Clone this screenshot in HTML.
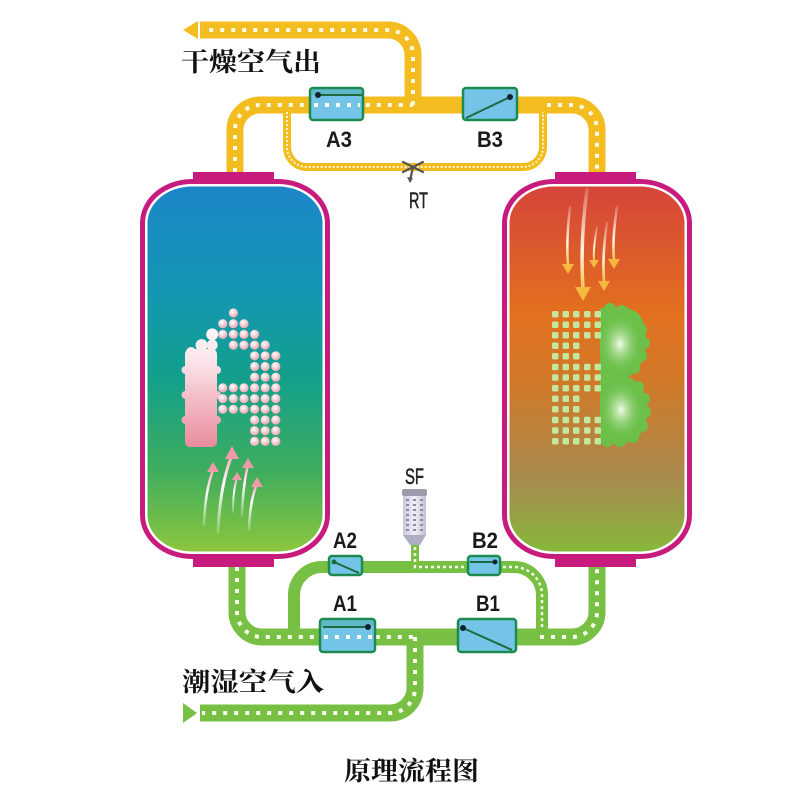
<!DOCTYPE html>
<html><head><meta charset="utf-8"><style>
html,body{margin:0;padding:0;background:#fff;}
svg{display:block;}
.lb{font-family:"Liberation Sans",sans-serif;font-weight:bold;fill:#1a1a1a;font-size:22px;}
.lr{font-family:"Liberation Sans",sans-serif;fill:#222;font-size:22px;stroke:#222;stroke-width:0.5;}
.cn{font-family:"Liberation Serif","Noto Serif CJK SC","Noto Sans CJK SC",serif;font-weight:bold;fill:#111;font-size:26px;}
</style></head><body>
<svg width="800" height="800" viewBox="0 0 800 800" xmlns="http://www.w3.org/2000/svg">
<defs>
<linearGradient id="gA" x1="0" y1="0" x2="0" y2="1">
<stop offset="0" stop-color="#1c86c8"/><stop offset="0.3" stop-color="#1497b2"/><stop offset="0.52" stop-color="#12a08c"/><stop offset="0.78" stop-color="#3fad5e"/><stop offset="1" stop-color="#8cc63e"/>
</linearGradient>
<linearGradient id="gB" x1="0" y1="0" x2="0" y2="1">
<stop offset="0" stop-color="#d6443a"/><stop offset="0.35" stop-color="#e2701e"/><stop offset="0.55" stop-color="#cf7a2a"/><stop offset="0.8" stop-color="#a88a4e"/><stop offset="1" stop-color="#86b83a"/>
</linearGradient>
<linearGradient id="leg" x1="0" y1="310" x2="0" y2="450" gradientUnits="userSpaceOnUse">
<stop offset="0" stop-color="#ffffff"/><stop offset="0.35" stop-color="#fbe6ea"/><stop offset="1" stop-color="#e9889a"/>
</linearGradient>
<radialGradient id="dotA" cx="0.4" cy="0.35" r="0.65">
<stop offset="0" stop-color="#ffffff"/><stop offset="1" stop-color="#eaa6b2"/>
</radialGradient>
<radialGradient id="hl" cx="0.5" cy="0.5" r="0.5">
<stop offset="0" stop-color="#f2fbe8" stop-opacity="1"/><stop offset="1" stop-color="#6cc04a" stop-opacity="0"/>
</radialGradient>
<linearGradient id="sfg" x1="0" y1="0" x2="1" y2="0">
<stop offset="0" stop-color="#c8c8da"/><stop offset="0.5" stop-color="#f0f0f8"/><stop offset="1" stop-color="#c0c0d4"/>
</linearGradient>
<linearGradient id="tailA" x1="0" y1="1" x2="0" y2="0">
<stop offset="0" stop-color="#ffffff" stop-opacity="0.2"/><stop offset="0.6" stop-color="#ffffff"/><stop offset="1" stop-color="#f2a8b4"/>
</linearGradient>
<linearGradient id="tailB" x1="0" y1="0" x2="0" y2="1">
<stop offset="0" stop-color="#ffffff" stop-opacity="0.2"/><stop offset="0.6" stop-color="#fff6e0"/><stop offset="1" stop-color="#f6c050"/>
</linearGradient>
</defs>

<!-- ===== YELLOW PIPES (top) ===== -->
<g fill="none" stroke="#f4bd1f" stroke-width="17">
<path d="M200,30 H388 A25,25 0 0 1 413,55 V105"/>
<path d="M235,173 V130 A25,25 0 0 1 260,105 H572 A25,25 0 0 1 597,130 V173"/>
</g>
<path d="M287,105 V147 A20,20 0 0 0 307,167 H523 A20,20 0 0 0 543,147 V105" fill="none" stroke="#f4bd1f" stroke-width="8"/>
<path d="M287,112 V147 A20,20 0 0 0 307,167 H523 A20,20 0 0 0 543,147 V112" fill="none" stroke="#fff6d0" stroke-width="2" stroke-dasharray="2 2"/>
<polygon points="183,30 198,21 198,39" fill="#f4bd1f"/>
<g fill="none" stroke="#fffbe8" stroke-width="4" stroke-dasharray="4 7">
<path d="M235,172 V130 A25,25 0 0 1 260,105 H413"/>
<path d="M413,105 V55 A25,25 0 0 0 388,30 H202"/>
<path d="M547,105 H572 A25,25 0 0 1 597,130 V172"/>
</g>

<!-- RT -->
<g stroke="#555" stroke-width="2.2" fill="none" stroke-linecap="round">
<path d="M403,162 L423,172"/><path d="M403,172 L423,162"/><path d="M413,167 L410,181"/>
</g>
<path d="M410,183 L407,177 L413,178 Z" fill="#555"/>
<text class="lr" x="409" y="208" textLength="19" lengthAdjust="spacingAndGlyphs">RT</text>

<!-- valves top -->
<rect x="310" y="88" width="53" height="32" rx="3" fill="#74c4e8" stroke="#1d8a4f" stroke-width="2.5"/>
<rect x="311.5" y="89.5" width="50" height="6" fill="#5fb8c8"/>
<line x1="318" y1="95" x2="362" y2="95" stroke="#1d6a3f" stroke-width="2"/>
<circle cx="318" cy="95" r="3" fill="#123"/>
<path d="M314,105 H360" stroke="#fff" stroke-width="4" stroke-dasharray="4 7" fill="none"/>
<rect x="463" y="88" width="54" height="32" rx="3" fill="#74c4e8" stroke="#1d8a4f" stroke-width="2.5"/>
<line x1="466" y1="118" x2="510" y2="97" stroke="#1d6a3f" stroke-width="2"/>
<circle cx="510" cy="97" r="3" fill="#123"/>
<text class="lb" x="326" y="147" textLength="26" lengthAdjust="spacingAndGlyphs">A3</text>
<text class="lb" x="477" y="147" textLength="26" lengthAdjust="spacingAndGlyphs">B3</text>

<!-- ===== GREEN PIPES (bottom) ===== -->
<g fill="none" stroke="#78c043" stroke-width="17">
<path d="M237,566 V612 A25,25 0 0 0 262,637 H572 A25,25 0 0 0 597,612 V566"/>
<path d="M415,637 V688 A25,25 0 0 1 390,713 H200"/>
</g>
<path d="M294,637 V595 A28,28 0 0 1 322,567 H514 A28,28 0 0 1 542,595 V637" fill="none" stroke="#78c043" stroke-width="12"/>
<path d="M415,543 V567" stroke="#78c043" stroke-width="8" fill="none"/>
<g fill="none" stroke="#f4ffe8" stroke-width="2.5" stroke-dasharray="3 3">
<path d="M415,547 V567 H514 A28,28 0 0 1 542,595 V630"/>
</g>
<polygon points="183,703 183,723 197,713" fill="#78c043"/>
<g fill="none" stroke="#f8fff0" stroke-width="4" stroke-dasharray="4 7">
<path d="M237,567 V612 A25,25 0 0 0 262,637 H415"/>
<path d="M415,637 V688 A25,25 0 0 1 390,713 H202"/>
<path d="M540,637 H572 A25,25 0 0 0 597,612 V567"/>
</g>

<!-- valves bottom -->
<rect x="320" y="619" width="55" height="33" rx="3" fill="#74c4e8" stroke="#1d8a4f" stroke-width="2.5"/>
<rect x="321.5" y="620.5" width="52" height="6" fill="#5fb8c8"/>
<line x1="323" y1="627" x2="368" y2="627" stroke="#1d6a3f" stroke-width="2"/>
<circle cx="368" cy="627" r="3" fill="#123"/>
<path d="M324,637 H372" stroke="#fff" stroke-width="4" stroke-dasharray="4 7" fill="none"/>
<rect x="458" y="619" width="58" height="33" rx="3" fill="#74c4e8" stroke="#1d8a4f" stroke-width="2.5"/>
<line x1="463" y1="628" x2="512" y2="650" stroke="#1d6a3f" stroke-width="2"/>
<circle cx="463" cy="628" r="3" fill="#123"/>
<rect x="329" y="556" width="33" height="19" rx="3" fill="#74c4e8" stroke="#1d8a4f" stroke-width="2.5"/>
<line x1="334" y1="562" x2="359" y2="573" stroke="#1d6a3f" stroke-width="2"/>
<circle cx="334" cy="562" r="2.5" fill="#1d6a3f"/>
<rect x="468" y="556" width="32" height="19" rx="3" fill="#74c4e8" stroke="#1d8a4f" stroke-width="2.5"/>
<line x1="470" y1="562" x2="495" y2="562" stroke="#1d6a3f" stroke-width="2"/>
<circle cx="495" cy="562" r="2.5" fill="#123"/>
<text class="lb" x="333" y="548" textLength="24" lengthAdjust="spacingAndGlyphs">A2</text>
<text class="lb" x="472" y="548" textLength="26" lengthAdjust="spacingAndGlyphs">B2</text>
<text class="lb" x="333" y="611" textLength="24" lengthAdjust="spacingAndGlyphs">A1</text>
<text class="lb" x="476" y="611" textLength="24" lengthAdjust="spacingAndGlyphs">B1</text>

<!-- SF filter -->
<text class="lr" x="405" y="484" textLength="19" lengthAdjust="spacingAndGlyphs">SF</text>
<rect x="403" y="495" width="23" height="41" fill="url(#sfg)"/>
<rect x="402" y="489" width="25" height="7" rx="2" fill="#9c9cae"/>
<path d="M403,535 L426,535 L420,545 L410,545 Z" fill="#aeaec2"/>
<g fill="#8a8aa2">
<rect x="406" y="499" width="3" height="2"/><rect x="413" y="499" width="3" height="2"/><rect x="420" y="499" width="3" height="2"/>
<rect x="406" y="504" width="3" height="2"/><rect x="413" y="504" width="3" height="2"/><rect x="420" y="504" width="3" height="2"/>
<rect x="406" y="509" width="3" height="2"/><rect x="413" y="509" width="3" height="2"/><rect x="420" y="509" width="3" height="2"/>
<rect x="406" y="514" width="3" height="2"/><rect x="413" y="514" width="3" height="2"/><rect x="420" y="514" width="3" height="2"/>
<rect x="406" y="519" width="3" height="2"/><rect x="413" y="519" width="3" height="2"/><rect x="420" y="519" width="3" height="2"/>
<rect x="406" y="524" width="3" height="2"/><rect x="413" y="524" width="3" height="2"/><rect x="420" y="524" width="3" height="2"/>
<rect x="406" y="529" width="3" height="2"/><rect x="413" y="529" width="3" height="2"/><rect x="420" y="529" width="3" height="2"/>
</g>

<!-- ===== VESSEL A ===== -->
<rect x="193" y="172" width="81" height="12" fill="#c71c7e"/>
<rect x="193" y="553" width="81" height="14" fill="#c71c7e"/>
<path d="M192,179 H278 A52,44 0 0 1 330,223 V515 A52,44 0 0 1 278,559 H192 A52,44 0 0 1 140,515 V223 A52,44 0 0 1 192,179 Z" fill="#c71c7e"/>
<path d="M192,184 H278 A47,39 0 0 1 325,223 V515 A47,39 0 0 1 278,554 H192 A47,39 0 0 1 145,515 V223 A47,39 0 0 1 192,184 Z" fill="#ffffff"/>
<path d="M192,186.5 H278 A44.5,36.5 0 0 1 322.5,223 V515 A44.5,36.5 0 0 1 278,551.5 H192 A44.5,36.5 0 0 1 147.5,515 V223 A44.5,36.5 0 0 1 192,186.5 Z" fill="url(#gA)"/>

<!-- letter A -->
<rect x="185" y="349" width="32" height="98" rx="5" fill="url(#leg)"/>
<g fill="url(#leg)">
<circle cx="201.6" cy="345.1" r="6"/><circle cx="212.2" cy="334.4" r="6"/><circle cx="212.2" cy="345.1" r="5.5"/>
<circle cx="191" cy="352" r="5"/><circle cx="185.5" cy="370" r="4"/><circle cx="185.5" cy="395" r="4"/><circle cx="185.5" cy="420" r="4"/>
<circle cx="217" cy="370" r="4"/><circle cx="217" cy="395" r="4"/><circle cx="217" cy="420" r="4"/>
</g>
<g fill="url(#dotA)">
<circle cx="233.4" cy="313" r="4.6"/>
<circle cx="222.8" cy="323.7" r="4.6"/><circle cx="233.4" cy="323.7" r="4.6"/><circle cx="244" cy="323.7" r="4.6"/>
<circle cx="222.8" cy="334.4" r="4.6"/><circle cx="233.4" cy="334.4" r="4.6"/><circle cx="244" cy="334.4" r="4.6"/><circle cx="254.6" cy="334.4" r="4.6"/>
<circle cx="233.4" cy="345.1" r="4.6"/><circle cx="244" cy="345.1" r="4.6"/><circle cx="254.6" cy="345.1" r="4.6"/><circle cx="265.2" cy="345.1" r="4.6"/>
<circle cx="254.6" cy="355.8" r="4.6"/><circle cx="265.2" cy="355.8" r="4.6"/><circle cx="275.8" cy="355.8" r="4.6"/>
<circle cx="254.6" cy="366.5" r="4.6"/><circle cx="265.2" cy="366.5" r="4.6"/><circle cx="275.8" cy="366.5" r="4.6"/>
<circle cx="254.6" cy="377.2" r="4.6"/><circle cx="265.2" cy="377.2" r="4.6"/><circle cx="275.8" cy="377.2" r="4.6"/>
<circle cx="222.8" cy="387.9" r="4.6"/><circle cx="233.4" cy="387.9" r="4.6"/><circle cx="244" cy="387.9" r="4.6"/><circle cx="254.6" cy="387.9" r="4.6"/><circle cx="265.2" cy="387.9" r="4.6"/><circle cx="275.8" cy="387.9" r="4.6"/>
<circle cx="222.8" cy="398.6" r="4.6"/><circle cx="233.4" cy="398.6" r="4.6"/><circle cx="244" cy="398.6" r="4.6"/><circle cx="254.6" cy="398.6" r="4.6"/><circle cx="265.2" cy="398.6" r="4.6"/><circle cx="275.8" cy="398.6" r="4.6"/>
<circle cx="222.8" cy="409.3" r="4.6"/><circle cx="233.4" cy="409.3" r="4.6"/><circle cx="244" cy="409.3" r="4.6"/><circle cx="254.6" cy="409.3" r="4.6"/><circle cx="265.2" cy="409.3" r="4.6"/><circle cx="275.8" cy="409.3" r="4.6"/>
<circle cx="254.6" cy="420" r="4.6"/><circle cx="265.2" cy="420" r="4.6"/><circle cx="275.8" cy="420" r="4.6"/>
<circle cx="254.6" cy="430.7" r="4.6"/><circle cx="265.2" cy="430.7" r="4.6"/><circle cx="275.8" cy="430.7" r="4.6"/>
<circle cx="254.6" cy="441.4" r="4.6"/><circle cx="265.2" cy="441.4" r="4.6"/><circle cx="275.8" cy="441.4" r="4.6"/>
</g>
<!-- up arrows -->
<g fill="none" stroke="url(#tailA)" stroke-linecap="round">
<path d="M218,532 Q220,485 232,455" stroke-width="3"/>
<path d="M204,525 Q205,492 213,470" stroke-width="2.5"/>
<path d="M242,515 Q243,485 248,465" stroke-width="2.5"/>
<path d="M233,512 Q233,490 237,478" stroke-width="2"/>
<path d="M249,530 Q250,500 257,484" stroke-width="2.5"/>
</g>
<g fill="#ee9aa8">
<polygon points="232,446 225,459 239,459"/>
<polygon points="213,462 207,472 219,472"/>
<polygon points="248,458 242,468 254,468"/>
<polygon points="237,472 232,480 242,480"/>
<polygon points="257,477 251,487 263,487"/>
</g>

<!-- ===== VESSEL B ===== -->
<g transform="translate(362,0)">
<rect x="193" y="172" width="81" height="12" fill="#c71c7e"/>
<rect x="193" y="553" width="81" height="14" fill="#c71c7e"/>
<path d="M192,179 H278 A52,44 0 0 1 330,223 V515 A52,44 0 0 1 278,559 H192 A52,44 0 0 1 140,515 V223 A52,44 0 0 1 192,179 Z" fill="#c71c7e"/>
<path d="M192,184 H278 A47,39 0 0 1 325,223 V515 A47,39 0 0 1 278,554 H192 A47,39 0 0 1 145,515 V223 A47,39 0 0 1 192,184 Z" fill="#ffffff"/>
<path d="M192,186.5 H278 A44.5,36.5 0 0 1 322.5,223 V515 A44.5,36.5 0 0 1 278,551.5 H192 A44.5,36.5 0 0 1 147.5,515 V223 A44.5,36.5 0 0 1 192,186.5 Z" fill="url(#gB)"/>
</g>

<!-- letter B green blob -->
<path d="M600,308 H622 C640,308 646,322 646,340 C646,360 638,372 628,377 C640,382 647,394 647,410 C647,430 638,443 620,443 H600 Z" fill="#6cc04a"/>
<g fill="#6cc04a">
<circle cx="610" cy="309" r="6"/><circle cx="622" cy="311" r="6"/><circle cx="634" cy="318" r="6"/><circle cx="641" cy="330" r="6"/><circle cx="644" cy="343" r="6"/><circle cx="641" cy="356" r="6"/><circle cx="634" cy="368" r="6"/>
<circle cx="638" cy="387" r="6"/><circle cx="644" cy="399" r="6"/><circle cx="645" cy="412" r="6"/><circle cx="642" cy="426" r="6"/><circle cx="633" cy="437" r="6"/><circle cx="620" cy="441" r="6"/><circle cx="607" cy="441" r="6"/>
</g>
<ellipse cx="620" cy="344" rx="22" ry="30" fill="url(#hl)"/>
<ellipse cx="621" cy="410" rx="22" ry="30" fill="url(#hl)"/>
<!-- B dots -->
<g fill="#c2e79e">
<rect x="552" y="311" width="6.5" height="6.5" rx="1.5"/><rect x="562.5" y="311" width="6.5" height="6.5" rx="1.5"/><rect x="573" y="311" width="6.5" height="6.5" rx="1.5"/><rect x="584" y="311" width="6.5" height="6.5" rx="1.5"/><rect x="594.5" y="311" width="6.5" height="6.5" rx="1.5"/>
<rect x="552" y="321.5" width="6.5" height="6.5" rx="1.5"/><rect x="562.5" y="321.5" width="6.5" height="6.5" rx="1.5"/><rect x="573" y="321.5" width="6.5" height="6.5" rx="1.5"/><rect x="584" y="321.5" width="6.5" height="6.5" rx="1.5"/><rect x="594.5" y="321.5" width="6.5" height="6.5" rx="1.5"/>
<rect x="552" y="332" width="6.5" height="6.5" rx="1.5"/><rect x="562.5" y="332" width="6.5" height="6.5" rx="1.5"/><rect x="573" y="332" width="6.5" height="6.5" rx="1.5"/><rect x="584" y="332" width="6.5" height="6.5" rx="1.5"/><rect x="594.5" y="332" width="6.5" height="6.5" rx="1.5"/>
<rect x="552" y="342.5" width="6.5" height="6.5" rx="1.5"/><rect x="562.5" y="342.5" width="6.5" height="6.5" rx="1.5"/><rect x="573" y="342.5" width="6.5" height="6.5" rx="1.5"/>
<rect x="552" y="353" width="6.5" height="6.5" rx="1.5"/><rect x="562.5" y="353" width="6.5" height="6.5" rx="1.5"/><rect x="573" y="353" width="6.5" height="6.5" rx="1.5"/>
<rect x="552" y="363.7" width="6.5" height="6.5" rx="1.5"/><rect x="562.5" y="363.7" width="6.5" height="6.5" rx="1.5"/><rect x="573" y="363.7" width="6.5" height="6.5" rx="1.5"/><rect x="584" y="363.7" width="6.5" height="6.5" rx="1.5"/><rect x="594.5" y="363.7" width="6.5" height="6.5" rx="1.5"/>
<rect x="552" y="374.3" width="6.5" height="6.5" rx="1.5"/><rect x="562.5" y="374.3" width="6.5" height="6.5" rx="1.5"/><rect x="573" y="374.3" width="6.5" height="6.5" rx="1.5"/><rect x="584" y="374.3" width="6.5" height="6.5" rx="1.5"/><rect x="594.5" y="374.3" width="6.5" height="6.5" rx="1.5"/>
<rect x="552" y="385" width="6.5" height="6.5" rx="1.5"/><rect x="562.5" y="385" width="6.5" height="6.5" rx="1.5"/><rect x="573" y="385" width="6.5" height="6.5" rx="1.5"/><rect x="584" y="385" width="6.5" height="6.5" rx="1.5"/><rect x="594.5" y="385" width="6.5" height="6.5" rx="1.5"/>
<rect x="552" y="395.5" width="6.5" height="6.5" rx="1.5"/><rect x="562.5" y="395.5" width="6.5" height="6.5" rx="1.5"/><rect x="573" y="395.5" width="6.5" height="6.5" rx="1.5"/>
<rect x="552" y="406" width="6.5" height="6.5" rx="1.5"/><rect x="562.5" y="406" width="6.5" height="6.5" rx="1.5"/><rect x="573" y="406" width="6.5" height="6.5" rx="1.5"/>
<rect x="552" y="416.7" width="6.5" height="6.5" rx="1.5"/><rect x="562.5" y="416.7" width="6.5" height="6.5" rx="1.5"/><rect x="573" y="416.7" width="6.5" height="6.5" rx="1.5"/><rect x="584" y="416.7" width="6.5" height="6.5" rx="1.5"/><rect x="594.5" y="416.7" width="6.5" height="6.5" rx="1.5"/>
<rect x="552" y="427.3" width="6.5" height="6.5" rx="1.5"/><rect x="562.5" y="427.3" width="6.5" height="6.5" rx="1.5"/><rect x="573" y="427.3" width="6.5" height="6.5" rx="1.5"/><rect x="584" y="427.3" width="6.5" height="6.5" rx="1.5"/><rect x="594.5" y="427.3" width="6.5" height="6.5" rx="1.5"/>
<rect x="552" y="438" width="6.5" height="6.5" rx="1.5"/><rect x="562.5" y="438" width="6.5" height="6.5" rx="1.5"/><rect x="573" y="438" width="6.5" height="6.5" rx="1.5"/><rect x="584" y="438" width="6.5" height="6.5" rx="1.5"/><rect x="594.5" y="438" width="6.5" height="6.5" rx="1.5"/>
</g>
<!-- down arrows B -->
<g fill="none" stroke="url(#tailB)" stroke-linecap="round">
<path d="M587,190 Q580,240 583,290" stroke-width="3.5"/>
<path d="M570,207 Q566,240 568,265" stroke-width="2.5"/>
<path d="M597,227 Q593,250 594,260" stroke-width="2"/>
<path d="M607,223 Q602,255 604,282" stroke-width="2.5"/>
<path d="M617,207 Q612,240 614,260" stroke-width="2.5"/>
</g>
<g fill="#f6b83e">
<polygon points="583,301 575,287 591,287"/>
<polygon points="568,274 562,264 574,264"/>
<polygon points="594,268 589,260 599,260"/>
<polygon points="604,291 598,281 610,281"/>
<polygon points="614,269 608,259 620,259"/>
</g>

<!-- ===== TEXT ===== -->
<text class="cn" x="181" y="71" textLength="140" lengthAdjust="spacingAndGlyphs">干燥空气出</text>
<text class="cn" x="182" y="691" textLength="142" lengthAdjust="spacingAndGlyphs">潮湿空气入</text>
<text class="cn" x="344" y="780" textLength="135" lengthAdjust="spacingAndGlyphs">原理流程图</text>
</svg>
</body></html>
